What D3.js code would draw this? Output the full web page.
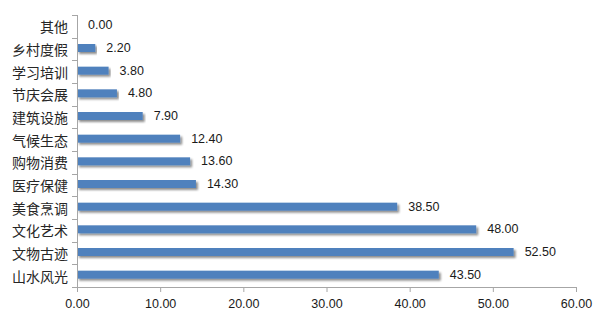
<!DOCTYPE html>
<html>
<head>
<meta charset="utf-8">
<script src="https://cdn.jsdelivr.net/npm/d3@7"></script>
<style>
  html, body { margin: 0; padding: 0; background: #fff; }
  svg { display: block; }
  .cat text { font-family: "Noto Sans CJK SC", sans-serif; font-size: 14px; fill: #262626; }
  .num { font-family: "Liberation Sans", "DejaVu Sans", sans-serif; font-size: 12.5px; fill: #1a1a1a; }
</style>
</head>
<body>
<svg id="chart" width="600" height="324"></svg>
<script>
// Categories listed top to bottom
const categories = ["其他", "乡村度假", "学习培训", "节庆会展", "建筑设施", "气候生态", "购物消费", "医疗保健", "美食烹调", "文化艺术", "文物古迹", "山水风光"];
const values = [0.00, 2.20, 3.80, 4.80, 7.90, 12.40, 13.60, 14.30, 38.50, 48.00, 52.50, 43.50];
const xTicks = [0, 10, 20, 30, 40, 50, 60];

const data = categories.map((c, i) => ({ cat: c, val: values[i] }));

const svg = d3.select("#chart");
const plotLeft = 77, plotRight = 576, plotTop = 15, plotBottom = 287;

const x = d3.scaleLinear().domain([0, 60]).range([plotLeft, plotRight]);
const y = d3.scaleBand().domain(categories).range([plotTop, plotBottom]);

const defs = svg.append("defs");
const f = defs.append("filter").attr("id", "shadow")
  .attr("x", "-5%").attr("y", "-50%").attr("width", "110%").attr("height", "250%");
f.append("feGaussianBlur").attr("in", "SourceAlpha").attr("stdDeviation", 1).attr("result", "b");
f.append("feOffset").attr("in", "b").attr("dx", 1.5).attr("dy", 2).attr("result", "o");
f.append("feComponentTransfer").attr("in", "o").attr("result", "s")
  .append("feFuncA").attr("type", "linear").attr("slope", 0.45);
const m = f.append("feMerge");
m.append("feMergeNode").attr("in", "s");
m.append("feMergeNode").attr("in", "SourceGraphic");

const barH = 8;

// Bars
svg.append("g").selectAll("rect").data(data).join("rect")
  .attr("x", x(0))
  .attr("y", d => y(d.cat) + y.bandwidth() / 2 - barH / 2 - 1)
  .attr("width", d => x(d.val) - x(0))
  .attr("height", barH)
  .attr("fill", "#4F81BD")
  .attr("filter", d => d.val > 0 ? "url(#shadow)" : null);

// Value labels
svg.append("g").selectAll("text").data(data).join("text")
  .attr("class", "num")
  .attr("x", d => x(d.val) + 11)
  .attr("y", d => y(d.cat) + y.bandwidth() / 2 - 1)
  .attr("dominant-baseline", "central")
  .text(d => d.val.toFixed(2));

// X axis
const xAxis = svg.append("g").attr("transform", `translate(0,${plotBottom})`)
  .call(d3.axisBottom(x).tickValues(xTicks).tickSize(5).tickPadding(7).tickFormat(d => d.toFixed(2)));
xAxis.select(".domain").attr("stroke", "#a6a6a6");
xAxis.selectAll(".tick line").attr("stroke", "#a6a6a6");
xAxis.selectAll("text").attr("class", "num").attr("font-size", null).attr("font-family", null);

// Y axis: line with ticks at category boundaries
const yg = svg.append("g").attr("class", "cat");
yg.append("line").attr("x1", plotLeft + 0.5).attr("x2", plotLeft + 0.5).attr("y1", plotTop).attr("y2", plotBottom)
  .attr("stroke", "#a6a6a6");
const bounds = categories.map(c => y(c)).concat([plotBottom]);
yg.selectAll("line.t").data(bounds).join("line").attr("class", "t")
  .attr("x1", plotLeft - 5).attr("x2", plotLeft).attr("y1", d => Math.round(d) + 0.5).attr("y2", d => Math.round(d) + 0.5)
  .attr("stroke", "#a6a6a6");
yg.selectAll("text").data(categories).join("text")
  .attr("x", plotLeft - 9)
  .attr("y", d => y(d) + y.bandwidth() / 2)
  .attr("text-anchor", "end")
  .attr("dominant-baseline", "central")
  .text(d => d);
</script>
</body>
</html>
